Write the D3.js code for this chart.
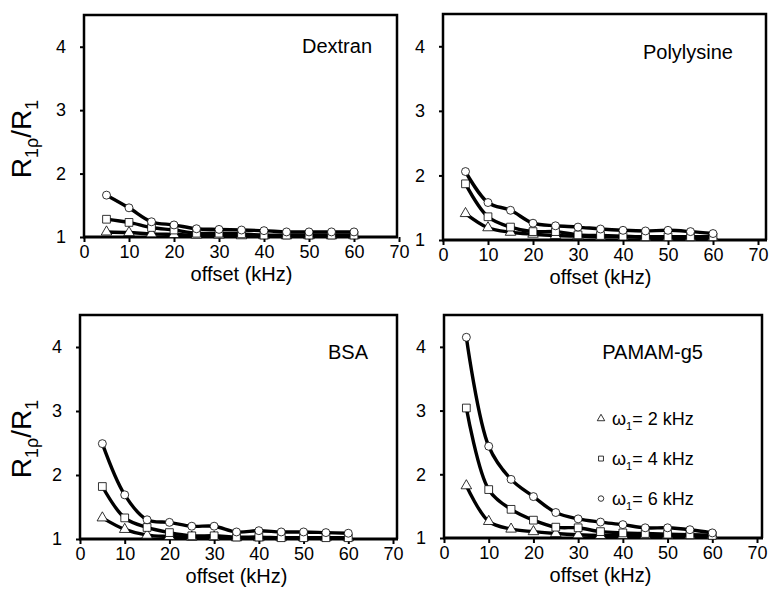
<!DOCTYPE html>
<html>
<head>
<meta charset="utf-8">
<script src="https://cdn.jsdelivr.net/npm/d3@7"></script>
<style>
  body { margin: 0; background: #fff; }
  svg { font-family: 'Liberation Sans', Arial, sans-serif; }
</style>
</head>
<body>
<svg id="chart" width="770" height="594"></svg>
<script>
const offsets = [5, 10, 15, 20, 25, 30, 35, 40, 45, 50, 55, 60]
const xTicks = [0, 10, 20, 30, 40, 50, 60, 70]
const yTicks = [1, 2, 3, 4]
const seriesLabels = ['2 kHz', '4 kHz', '6 kHz']

// ratio values, one array per omega_1
const dextran2 = [1.08, 1.07, 1.05, 1.04, 1.03, 1.03, 1.02, 1.02, 1.02, 1.02, 1.02, 1.02]
const dextran4 = [1.28, 1.23, 1.15, 1.11, 1.06, 1.06, 1.05, 1.03, 1.03, 1.03, 1.03, 1.03]
const dextran6 = [1.66, 1.46, 1.24, 1.19, 1.13, 1.12, 1.11, 1.10, 1.08, 1.08, 1.08, 1.08]

const polylysine2 = [1.41, 1.19, 1.12, 1.09, 1.07, 1.06, 1.05, 1.05, 1.04, 1.04, 1.04, 1.04]
const polylysine4 = [1.87, 1.36, 1.20, 1.13, 1.13, 1.08, 1.07, 1.06, 1.05, 1.05, 1.05, 1.05]
const polylysine6 = [2.06, 1.58, 1.46, 1.26, 1.22, 1.20, 1.17, 1.15, 1.14, 1.15, 1.13, 1.10]

const bsa2 = [1.33, 1.15, 1.06, 1.04, 1.03, 1.03, 1.02, 1.02, 1.02, 1.02, 1.02, 1.02]
const bsa4 = [1.82, 1.33, 1.18, 1.10, 1.05, 1.05, 1.03, 1.03, 1.02, 1.02, 1.02, 1.02]
const bsa6 = [2.49, 1.69, 1.30, 1.26, 1.20, 1.20, 1.11, 1.13, 1.11, 1.11, 1.10, 1.09]

const pamam2 = [1.82, 1.26, 1.14, 1.10, 1.07, 1.05, 1.04, 1.04, 1.04, 1.04, 1.04, 1.04]
const pamam4 = [3.04, 1.76, 1.45, 1.28, 1.17, 1.16, 1.10, 1.08, 1.07, 1.06, 1.05, 1.04]
const pamam6 = [4.15, 2.44, 1.92, 1.65, 1.40, 1.30, 1.25, 1.21, 1.16, 1.16, 1.13, 1.08]

const panels = [
  { name: 'Dextran', series: [dextran2, dextran4, dextran6], yLabel: true,
    left: 84, top: 15, plotW: 315, frameW: 313, height: 222, titleX: 288, titleY: 38 },
  { name: 'Polylysine', series: [polylysine2, polylysine4, polylysine6], yLabel: false,
    left: 443, top: 14, plotW: 315, frameW: 323, height: 226, titleX: 290, titleY: 45 },
  { name: 'BSA', series: [bsa2, bsa4, bsa6], yLabel: true,
    left: 80, top: 315, plotW: 313, frameW: 317, height: 224, titleX: 288, titleY: 44 },
  { name: 'PAMAM-g5', series: [pamam2, pamam4, pamam6], yLabel: false, legend: true,
    left: 444, top: 315, plotW: 313, frameW: 318, height: 223, titleX: 259, titleY: 44 },
]

const svg = d3.select('#chart')

const symbolFor = i => [d3.symbolTriangle, d3.symbolSquare, d3.symbolCircle][i]
const symbolSize = [48, 60, 50]

panels.forEach(p => {
  const g = svg.append('g').attr('class', 'panel')
  const x = d3.scaleLinear().domain([0, 70]).range([p.left, p.left + p.plotW])
  const y = d3.scaleLinear().domain([1, 4.5]).range([p.top + p.height, p.top])
  const bottom = p.top + p.height
  const right = p.left + p.frameW

  // frame
  g.append('path')
    .attr('d', `M${p.left},${bottom}V${p.top}H${right}V${bottom}`)
    .attr('fill', 'none')
    .attr('stroke', '#000')
    .attr('stroke-width', 2.5)

  // x axis
  g.append('g')
    .attr('transform', `translate(0,${bottom})`)
    .call(d3.axisBottom(x).tickValues(xTicks).tickSize(5).tickPadding(3))
    .call(ax => {
      ax.select('.domain').remove()
      ax.selectAll('.tick line').attr('stroke-width', 2)
      ax.selectAll('.tick text').attr('font-size', 18).attr('font-family', null)
    })
  g.append('line')
    .attr('x1', p.left - 1)
    .attr('x2', right + 1)
    .attr('y1', bottom)
    .attr('y2', bottom)
    .attr('stroke', '#000')
    .attr('stroke-width', 3)

  // y axis
  g.append('g')
    .attr('transform', `translate(${p.left},0)`)
    .call(d3.axisLeft(y).tickValues(yTicks).tickFormat(d3.format('d')).tickSize(4).tickPadding(14))
    .call(ax => {
      ax.select('.domain').remove()
      ax.selectAll('.tick line').attr('stroke-width', 2)
      ax.selectAll('.tick text').attr('font-size', 18).attr('font-family', null)
    })

  g.append('text')
    .attr('x', (p.left + p.left + p.plotW) / 2)
    .attr('y', bottom + 44)
    .attr('text-anchor', 'middle')
    .attr('font-size', 20)
    .text('offset (kHz)')

  if (p.yLabel) {
    const lab = g.append('text')
      .attr('transform', `translate(31,${p.top + 124}) rotate(-90)`)
      .attr('text-anchor', 'middle')
      .attr('font-size', 28)
    lab.append('tspan').text('R')
    lab.append('tspan').attr('dy', 7).attr('font-size', 18).text('1ρ')
    lab.append('tspan').attr('dy', -7).text('/R')
    lab.append('tspan').attr('dy', 7).attr('font-size', 18).text('1')
  }

  g.append('text')
    .attr('x', p.left + p.titleX)
    .attr('y', p.top + p.titleY)
    .attr('text-anchor', 'end')
    .attr('font-size', 20)
    .text(p.name)

  const line = d3.line()
    .x((d, i) => x(offsets[i]))
    .y(d => y(d))
    .curve(d3.curveCatmullRom.alpha(0.5))

  p.series.forEach((vals, si) => {
    g.append('path')
      .attr('d', line(vals))
      .attr('fill', 'none')
      .attr('stroke', '#000')
      .attr('stroke-width', 3.4)
    g.append('g')
      .selectAll('path')
      .data(vals)
      .join('path')
      .attr('transform', (d, i) => `translate(${x(offsets[i])},${y(d)})`)
      .attr('d', d3.symbol(symbolFor(si), symbolSize[si]))
      .attr('fill', '#fff')
      .attr('stroke', '#000')
      .attr('stroke-width', 0.8)
  })

  if (p.legend) {
    const leg = g.append('g')
      .selectAll('g')
      .data(seriesLabels)
      .join('g')
      .attr('transform', (d, i) => `translate(${p.left + 157},${y(3) + 8 + i * 40})`)
    leg.append('path')
      .attr('d', (d, i) => d3.symbol(symbolFor(i), 24)())
      .attr('fill', '#fff')
      .attr('stroke', '#000')
      .attr('stroke-width', 0.8)
    const t = leg.append('text')
      .attr('x', 11)
      .attr('y', 6)
      .attr('font-size', 18)
    t.append('tspan').text('ω')
    t.append('tspan').attr('dy', 5).attr('font-size', 11).text('1')
    t.append('tspan').attr('dy', -5).text(d => `= ${d}`)
  }
})
</script>
</body>
</html>
